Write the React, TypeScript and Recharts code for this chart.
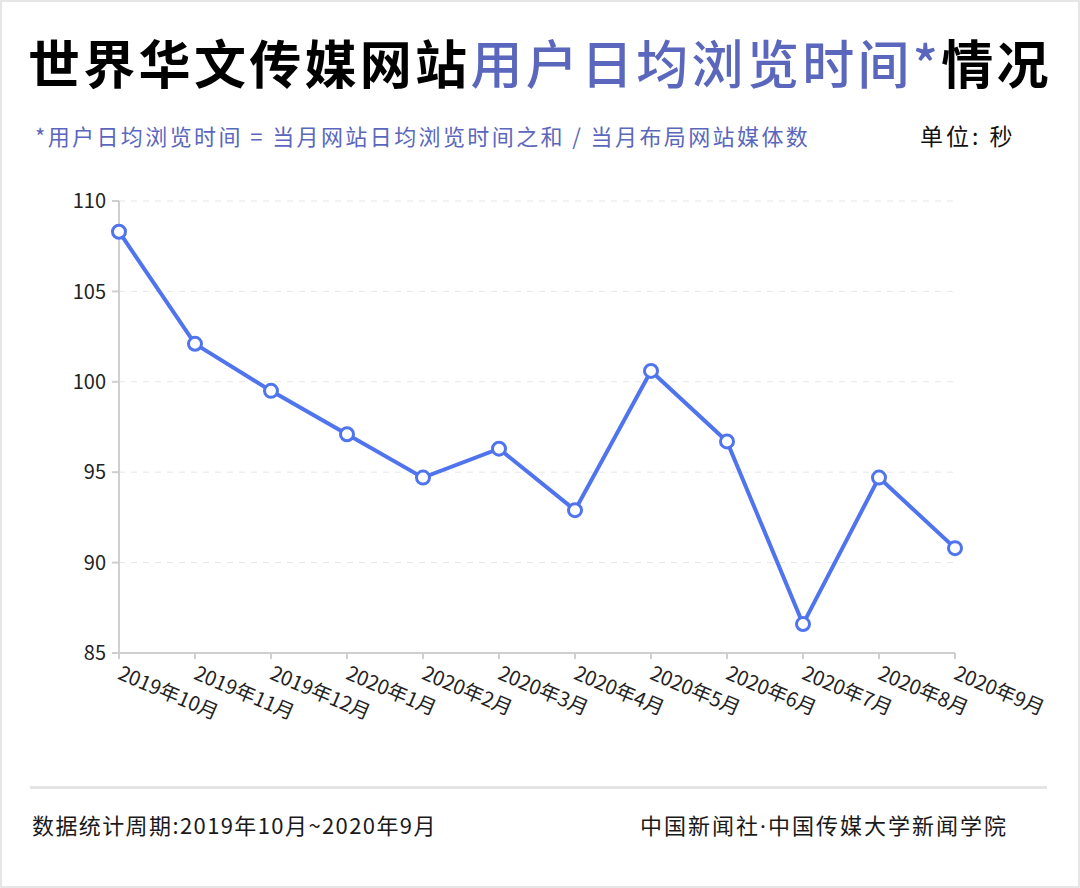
import { LineChart, Line, XAxis, YAxis, CartesianGrid } from 'recharts';

const months = [
  '2019年10月', '2019年11月', '2019年12月', '2020年1月', '2020年2月', '2020年3月',
  '2020年4月', '2020年5月', '2020年6月', '2020年7月', '2020年8月', '2020年9月',
];
const seconds = [108.3, 102.1, 99.5, 97.1, 94.7, 96.3, 92.9, 100.6, 96.7, 86.6, 94.7, 90.8];
const yTicks = [85, 90, 95, 100, 105, 110];

const data = months.map((m, i) => ({ month: m, value: seconds[i] }));

const FONT = '"Noto Sans CJK SC", "Noto Sans", sans-serif';
const BLUE_TEXT = '#5b67bd';
const LINE_BLUE = '#4f74ee';

function MonthTick({ x, y, payload }: any) {
  return (
    <g transform={`translate(${x},${y + 12})`}>
      <text
        x={0}
        y={0}
        dy={6}
        textAnchor="start"
        transform="rotate(23)"
        fontSize={20}
        fontFamily={FONT}
        fill="#222"
      >
        {payload.value}
      </text>
    </g>
  );
}

export default function App() {
  return (
    <div
      style={{
        position: 'absolute',
        left: 0,
        top: 0,
        width: 1080,
        height: 888,
        boxSizing: 'border-box',
        border: '2px solid #e6e6e6',
        background: '#fff',
        fontFamily: FONT,
        overflow: 'hidden',
      }}
    >
      {/* title */}
      <div
        style={{
          position: 'absolute',
          left: 26,
          top: 22,
          fontSize: 52,
          fontWeight: 700,
          lineHeight: '76px',
          letterSpacing: 3.3,
          whiteSpace: 'nowrap',
          color: '#000',
        }}
      >
        世界华文传媒网站
        <span style={{ color: BLUE_TEXT, fontWeight: 500 }}>用户日均浏览时间*</span>
        情况
      </div>

      {/* subtitle */}
      <div
        style={{
          position: 'absolute',
          left: 33,
          top: 116,
          fontSize: 22,
          lineHeight: '34px',
          letterSpacing: 2.4,
          whiteSpace: 'nowrap',
          color: BLUE_TEXT,
        }}
      >
        *用户日均浏览时间 = 当月网站日均浏览时间之和 / 当月布局网站媒体数
      </div>
      <div
        style={{
          position: 'absolute',
          left: 918,
          top: 116,
          fontSize: 23,
          lineHeight: '34px',
          letterSpacing: 3,
          whiteSpace: 'nowrap',
          color: '#111',
        }}
      >
        单位: 秒
      </div>

      {/* chart */}
      <div style={{ position: 'absolute', left: -2, top: 168 }}>
        <LineChart
          width={1080}
          height={560}
          data={data}
          margin={{ top: 31, right: 125, bottom: 7, left: 0 }}
        >
          <CartesianGrid
            vertical={false}
            stroke="#e6e6e6"
            strokeDasharray="6 6"
          />
          <XAxis
            dataKey="month"
            height={70}
            interval={0}
            tick={<MonthTick />}
            tickSize={6}
            axisLine={{ stroke: '#cfcfcf', strokeWidth: 2 }}
            tickLine={{ stroke: '#cfcfcf', strokeWidth: 2 }}
          />
          <YAxis
            width={119}
            domain={[85, 110]}
            ticks={yTicks}
            interval={0}
            tickSize={7}
            tickMargin={6}
            axisLine={{ stroke: '#cfcfcf', strokeWidth: 2 }}
            tickLine={{ stroke: '#cfcfcf', strokeWidth: 2 }}
            tick={{ fontSize: 20, fill: '#222', fontFamily: FONT }}
          />
          <Line
            type="linear"
            dataKey="value"
            stroke={LINE_BLUE}
            strokeWidth={4}
            dot={{ r: 6.5, fill: '#fff', stroke: LINE_BLUE, strokeWidth: 3 }}
            activeDot={false}
            isAnimationActive={false}
          />
        </LineChart>
      </div>

      {/* footer */}
      <div
        style={{
          position: 'absolute',
          left: 28,
          top: 784,
          width: 1017,
          height: 3,
          background: '#e4e4e4',
        }}
      />
      <div
        style={{
          position: 'absolute',
          left: 30,
          top: 805,
          fontSize: 22,
          lineHeight: '34px',
          letterSpacing: 1.4,
          whiteSpace: 'nowrap',
          color: '#1a1a1a',
        }}
      >
        数据统计周期:2019年10月~2020年9月
      </div>
      <div
        style={{
          position: 'absolute',
          left: 638,
          top: 805,
          fontSize: 22,
          lineHeight: '34px',
          whiteSpace: 'nowrap',
          color: '#1a1a1a',
          letterSpacing: 2,
        }}
      >
        中国新闻社<span style={{ fontFamily: '"Noto Sans", sans-serif' }}>·</span>中国传媒大学新闻学院
      </div>
    </div>
  );
}
